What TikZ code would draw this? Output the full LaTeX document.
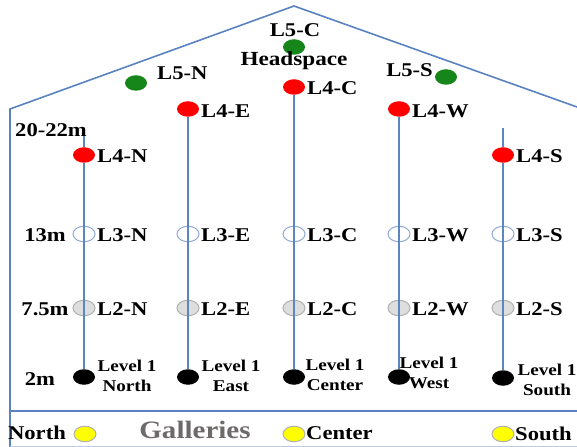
\documentclass[tikz,border=0pt]{standalone}
\usepackage{fontspec}
\setmainfont{Liberation Serif}[FakeStretch=1.16]
\usetikzlibrary{shapes.geometric}
\definecolor{wallc}{HTML}{5A82C0}
\definecolor{polec}{HTML}{5B86C4}
\definecolor{redc}{HTML}{FF0000}
\definecolor{greenc}{HTML}{17861A}
\definecolor{grayfill}{HTML}{D8D8D8}
\definecolor{grayline}{HTML}{B0B0B0}
\definecolor{whiteline}{HTML}{8EA9D6}
\definecolor{yellowc}{HTML}{FFFF00}
\definecolor{galc}{HTML}{6E6A6A}
\begin{document}
\begin{tikzpicture}[x=1bp,y=-1bp,
  dot/.style={ellipse,minimum width=22bp,minimum height=15.5bp,inner sep=0pt},
  reddot/.style={dot,fill=redc},
  greendot/.style={dot,fill=greenc},
  whitedot/.style={dot,fill=white,draw=whiteline,line width=1bp},
  graydot/.style={dot,fill=grayfill,fill opacity=0.85,draw=grayline,line width=1bp},
  blackdot/.style={dot,fill=black},
  yellowdot/.style={dot,fill=yellowc,draw=grayline,line width=1bp},
  lab/.style={font=\fontsize{19.5bp}{21bp}\selectfont\bfseries,inner sep=0pt},
  small/.style={font=\fontsize{16.5bp}{20bp}\selectfont\bfseries,align=center,inner sep=0pt},
  wall/.style={draw=wallc,line width=1.6bp},
  pole/.style={draw=polec,line width=2.1bp}]
\useasboundingbox (0,0) rectangle (577,447);
% building outline
\draw[wall] (10,447) -- (10,109) -- (294,6) -- (577,107);
\draw[wall] (10,411) -- (577,411);
\draw[draw=whiteline!60,line width=1bp] (10,446) -- (577,446);
% level 3 and level 2 sensors
\node[whitedot] (l3n) at (84,234) {};
\node[whitedot] (l3e) at (188,234) {};
\node[whitedot] (l3c) at (294,234) {};
\node[whitedot] (l3w) at (399,234) {};
\node[whitedot] (l3s) at (503,234) {};
\node[graydot] (l2n) at (84,308) {};
\node[graydot] (l2e) at (188,308) {};
\node[graydot] (l2c) at (294,308) {};
\node[graydot] (l2w) at (399,308) {};
\node[graydot] (l2s) at (503,308) {};
% level 4, level 1 sensors
\node[reddot] (l4n) at (84,155) {};
\node[reddot] (l4e) at (188,109) {};
\node[reddot] (l4c) at (294,87) {};
\node[reddot] (l4w) at (399,109) {};
\node[reddot] (l4s) at (503,155) {};
\node[blackdot] (l1n) at (84,377) {};
\node[blackdot] (l1e) at (188,377) {};
\node[blackdot] (l1c) at (294,377) {};
\node[blackdot] (l1w) at (399,377) {};
\node[blackdot] (l1s) at (503,378) {};
\coordinate (topn) at (84,128);
\coordinate (tops) at (503,128);
% poles
\draw[pole] (topn) -- (l4n.north);
\draw[pole] (l4n.south) -- (l1n.north);
\draw[pole] (l4e.south) -- (l1e.north);
\draw[pole] (l4c.south) -- (l1c.north);
\draw[pole] (l4w.south) -- (l1w.north);
\draw[pole] (tops) -- (l4s.north);
\draw[pole] (l4s.south) -- (l1s.north);
% level 5
\node[greendot] (l5n) at (136,83) {};
\node[greendot] (l5c) at (294,47) {};
\node[greendot] (l5s) at (446,77) {};
\node[lab,anchor=west] (t5n) at (157,73) {L5-N};
\node[lab] (t5c) at (295,30) {L5-C};
\node[lab,font=\fontsize{20bp}{22bp}\selectfont\bfseries] (head) at (294,61) {Headspace};
\node[lab,anchor=east] (t5s) at (433,70) {L5-S};
% labels
\node[lab,anchor=west] (t4n) at (97,156) {L4-N};
\node[lab,anchor=west] (t4e) at (201,111) {L4-E};
\node[lab,anchor=west] (t4c) at (307,88) {L4-C};
\node[lab,anchor=west] (t4w) at (412,111) {L4-W};
\node[lab,anchor=west] (t4s) at (516,156) {L4-S};
\node[lab,anchor=west] (t3n) at (97,235) {L3-N};
\node[lab,anchor=west] (t3e) at (201,235) {L3-E};
\node[lab,anchor=west] (t3c) at (307,235) {L3-C};
\node[lab,anchor=west] (t3w) at (412,235) {L3-W};
\node[lab,anchor=west] (t3s) at (516,235) {L3-S};
\node[lab,anchor=west] (t2n) at (97,309) {L2-N};
\node[lab,anchor=west] (t2e) at (201,309) {L2-E};
\node[lab,anchor=west] (t2c) at (307,309) {L2-C};
\node[lab,anchor=west] (t2w) at (412,309) {L2-W};
\node[lab,anchor=west] (t2s) at (516,309) {L2-S};
\node[small] (t1n) at (127,376) {Level 1\\North};
\node[small] (t1e) at (231,376) {Level 1\\East};
\node[small] (t1c) at (335,375) {Level 1\\Center};
\node[small] (t1w) at (429,373) {Level 1\\West};
\node[small] (t1s) at (547,380) {Level 1\\South};
% heights
\node[lab] (h4) at (51,130) {20-22m};
\node[lab] (h3) at (45,235) {13m};
\node[lab] (h2) at (45,309) {7.5m};
\node[lab] (h1) at (40,379) {2m};
% galleries
\node[lab] (gn) at (37,433) {North};
\node[yellowdot] (yn) at (85,434) {};
\node[lab,text=galc,font=\fontsize{25bp}{27bp}\selectfont\bfseries] (gal) at (195,430) {Galleries};
\node[yellowdot] (yc) at (294,434) {};
\node[lab,anchor=west] (gc) at (306,433) {Center};
\node[yellowdot] (ys) at (503,434) {};
\node[lab,anchor=west] (gs) at (515,434) {South};
\end{tikzpicture}
\end{document}
